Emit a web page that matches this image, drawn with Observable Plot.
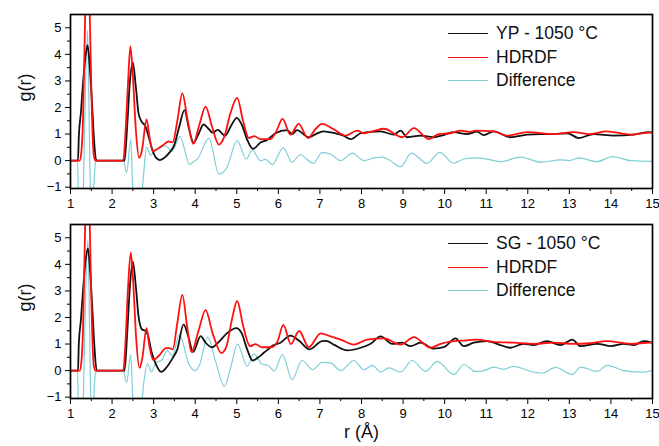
<!DOCTYPE html>
<html>
<head>
<meta charset="utf-8">
<script src="https://cdn.jsdelivr.net/npm/d3@7"></script>
<script src="https://cdn.jsdelivr.net/npm/@observablehq/plot@0.6"></script>
<style>
  body { margin: 0; background: #fff; font-family: "Liberation Sans", Arial, sans-serif; }
  #wrap { position: relative; width: 659px; height: 446px; }
  #wrap svg { display: block; }
  .leg { position: absolute; left: 448px; height: 20px; display: flex; align-items: center; font-size: 17.5px; color: #111; white-space: nowrap; }
  .sw { display: inline-block; width: 40px; height: 0; margin-right: 8px; }
</style>
</head>
<body>
<div id="wrap"></div>
<script>
// ---------- data (r in Å, g(r)) ----------
const xMajor = [1,2,3,4,5,6,7,8,9,10,11,12,13,14,15];
const xMinor = [1.5,2.5,3.5,4.5,5.5,6.5,7.5,8.5,9.5,10.5,11.5,12.5,13.5,14.5];
const yMajor = [-1,0,1,2,3,4,5];
const yMinor = [-0.5,0.5,1.5,2.5,3.5,4.5];

const legendTop = ["YP - 1050 °C", "HDRDF", "Difference"];
const legendBottom = ["SG - 1050 °C", "HDRDF", "Difference"];

const ypExp = [[1,0],[1.18,0],[1.2,0.9],[1.25,1.8],[1.3,2.9],[1.36,3.9],[1.41,4.35],[1.46,3.6],[1.52,2.1],[1.57,0.7],[1.62,0],[2.3,0],[2.36,1.2],[2.43,3.0],[2.5,3.7],[2.57,2.8],[2.64,1.75],[2.72,1.45],[2.8,1.3],[2.88,0.9],[2.97,0.4],[3.06,0.1],[3.15,0.02],[3.25,0.1],[3.38,0.3],[3.5,0.6],[3.62,1.3],[3.74,1.9],[3.85,1.2],[3.96,0.67],[4.08,1.0],[4.2,1.36],[4.32,1.2],[4.42,1.05],[4.54,1.16],[4.72,0.94],[4.86,1.3],[5.0,1.61],[5.12,1.35],[5.26,0.75],[5.39,0.44],[5.57,0.68],[5.73,0.78],[5.93,1.03],[6.21,1.15],[6.33,1.0],[6.45,1.15],[6.73,0.88],[6.9,1.0],[7.08,1.1],[7.36,1.03],[7.55,0.95],[7.74,0.81],[7.98,1.03],[8.2,1.08],[8.46,1.1],[8.78,0.98],[8.94,1.13],[9.1,0.88],[9.42,0.94],[9.73,0.88],[9.95,0.95],[10.21,1.07],[10.54,1.0],[10.78,1.09],[10.94,0.96],[11.18,1.1],[11.58,0.88],[11.99,0.98],[12.3,1.0],[12.63,1.0],[12.95,1.03],[13.23,0.85],[13.59,1.0],[14.07,0.94],[14.55,0.98],[14.91,1.07],[15,1.06]];

const ypFit = [[1,0],[1.22,0],[1.26,0.3],[1.3,1.5],[1.34,4.5],[1.41,9],[1.47,5.0],[1.52,1.5],[1.56,0.2],[1.6,0],[2.27,0],[2.32,1.0],[2.38,2.8],[2.44,4.3],[2.5,3.2],[2.57,1.2],[2.65,0.1],[2.72,0.4],[2.83,1.55],[2.9,0.9],[2.98,0.35],[3.1,0.45],[3.24,0.6],[3.36,0.72],[3.46,0.69],[3.57,1.5],[3.69,2.53],[3.82,1.5],[3.95,0.63],[4.1,1.35],[4.25,2.03],[4.4,1.3],[4.57,0.6],[4.7,0.9],[4.85,1.8],[5.01,2.36],[5.15,1.5],[5.29,0.85],[5.42,0.92],[5.57,0.81],[5.81,0.81],[5.95,1.1],[6.1,1.57],[6.29,0.98],[6.49,1.38],[6.71,0.85],[6.9,1.2],[7.05,1.38],[7.33,1.18],[7.62,0.94],[7.9,1.13],[8.06,1.03],[8.3,1.12],[8.54,1.2],[8.98,0.88],[9.26,1.22],[9.62,0.81],[9.86,1.0],[10.14,1.03],[10.38,1.13],[10.6,1.08],[10.74,1.13],[11.18,1.1],[11.5,0.94],[11.99,1.07],[12.63,1.0],[13.1,1.07],[13.5,1.0],[13.9,1.1],[14.47,0.98],[14.95,1.05],[15,1.05]];

const ypDiff = [[1,0],[1.17,0],[1.19,-1.5],[1.24,-2.5],[1.3,-1.5],[1.35,2.0],[1.41,4.9],[1.45,1.5],[1.48,-1.5],[1.52,-2.5],[1.56,-1.0],[1.6,-0.1],[1.64,0],[2.27,0],[2.35,-0.45],[2.45,0.8],[2.5,-1.2],[2.6,-2.5],[2.7,-1.5],[2.76,-0.5],[2.83,0.5],[2.93,0.2],[3.03,0.38],[3.17,0.5],[3.29,0.55],[3.44,0.35],[3.63,0.9],[3.87,-0.15],[3.95,-0.05],[4.05,0.05],[4.33,0.84],[4.57,-0.5],[4.75,-0.3],[5.01,0.75],[5.23,0.06],[5.37,0.4],[5.57,0.0],[5.69,0.05],[5.85,-0.15],[6.12,0.48],[6.33,-0.06],[6.52,0.22],[6.84,-0.1],[7.05,0.3],[7.25,0.25],[7.5,0.0],[7.78,0.28],[8.06,0.0],[8.3,0.1],[8.5,0.13],[8.66,0.03],[8.94,-0.23],[9.2,0.28],[9.58,-0.1],[9.88,0.31],[10.22,-0.1],[10.46,0.06],[10.78,0.1],[11.1,0.03],[11.34,-0.04],[11.83,0.13],[12.31,-0.06],[12.79,0.03],[12.99,0.0],[13.23,0.1],[13.67,-0.04],[14.03,0.15],[14.47,0.0],[14.95,-0.03],[15,-0.02]];

const sgExp = [[1,0],[1.18,0],[1.2,1.0],[1.25,1.9],[1.3,3.0],[1.36,4.1],[1.42,4.6],[1.47,3.8],[1.53,2.2],[1.58,0.8],[1.63,0],[2.3,0],[2.36,1.3],[2.43,3.2],[2.5,4.1],[2.57,3.2],[2.64,2.0],[2.72,1.55],[2.8,1.5],[2.86,1.35],[2.95,0.7],[3.05,0.25],[3.18,-0.05],[3.3,0.1],[3.45,0.45],[3.57,0.8],[3.72,1.74],[3.83,1.3],[3.95,0.7],[4.13,1.3],[4.25,1.05],[4.4,0.88],[4.58,1.1],[4.76,1.4],[4.99,1.6],[5.12,1.4],[5.25,0.8],[5.38,0.38],[5.52,0.5],[5.65,0.67],[5.89,0.96],[6.05,1.05],[6.29,1.32],[6.5,1.12],[6.75,0.8],[7.05,1.11],[7.15,1.12],[7.33,0.98],[7.66,0.76],[7.98,0.86],[8.22,1.01],[8.46,1.29],[8.74,1.01],[8.98,1.05],[9.18,0.92],[9.42,1.05],[9.74,0.83],[9.98,0.88],[10.26,1.21],[10.46,0.92],[10.7,1.05],[11.02,1.11],[11.26,1.01],[11.58,0.86],[11.9,1.01],[12.14,0.96],[12.46,1.11],[12.79,0.96],[13.07,1.17],[13.27,0.92],[13.67,1.01],[14.0,0.92],[14.31,1.01],[14.55,0.96],[14.79,1.11],[15,1.05]];

const sgFit = [[1,0],[1.22,0],[1.26,0.3],[1.3,1.5],[1.34,4.5],[1.41,9],[1.47,5.0],[1.52,1.5],[1.56,0.2],[1.6,0],[2.27,0],[2.32,1.0],[2.38,3.0],[2.45,4.45],[2.51,3.3],[2.58,1.2],[2.66,0.1],[2.73,0.5],[2.83,1.6],[2.9,0.9],[2.99,0.4],[3.12,0.55],[3.3,0.85],[3.38,0.85],[3.46,0.8],[3.57,1.8],[3.69,2.85],[3.81,1.6],[3.91,0.7],[4.08,1.5],[4.25,2.28],[4.42,1.4],[4.63,0.66],[4.75,0.9],[4.88,1.9],[5.01,2.62],[5.15,1.7],[5.32,0.92],[5.45,1.0],[5.6,0.88],[5.83,0.88],[5.98,1.1],[6.12,1.72],[6.3,1.0],[6.5,1.49],[6.73,0.88],[7.02,1.4],[7.24,1.3],[7.5,1.17],[7.82,0.98],[8.14,1.17],[8.54,1.21],[8.94,0.98],[9.26,1.26],[9.66,0.86],[9.9,1.01],[10.22,1.11],[10.54,1.14],[10.78,1.17],[11.18,1.08],[11.66,1.05],[12.14,1.01],[12.62,1.05],[13.1,1.01],[13.5,1.03],[13.9,1.11],[14.47,1.01],[14.95,1.05],[15,1.05]];

const sgDiff = [[1,0],[1.17,0],[1.19,-1.5],[1.24,-2.5],[1.3,-1.5],[1.35,2.0],[1.42,4.9],[1.46,1.5],[1.49,-1.5],[1.52,-2.5],[1.56,-1.0],[1.6,-0.1],[1.64,0],[2.27,0],[2.35,-0.45],[2.45,0.6],[2.5,-1.2],[2.6,-2.5],[2.7,-1.5],[2.76,-0.5],[2.85,0.25],[2.95,-0.05],[3.05,0.3],[3.2,0.4],[3.33,0.76],[3.45,0.55],[3.62,1.36],[3.85,0.23],[4.0,0.0],[4.1,0.2],[4.3,1.26],[4.5,0.3],[4.7,-0.6],[4.85,0.1],[5.02,1.0],[5.25,0.16],[5.41,0.63],[5.62,0.23],[5.75,0.2],[5.9,-0.02],[6.1,0.6],[6.33,-0.34],[6.57,0.38],[6.83,0.04],[7.05,0.31],[7.25,0.29],[7.5,0.0],[7.81,0.38],[8.06,0.04],[8.26,0.2],[8.46,-0.05],[8.66,0.1],[8.94,-0.05],[9.22,0.38],[9.54,-0.03],[9.82,0.35],[10.22,-0.15],[10.46,0.23],[10.74,-0.03],[10.9,-0.02],[11.18,0.13],[11.42,0.05],[11.66,0.16],[12.07,-0.03],[12.35,-0.09],[12.67,0.12],[13.07,-0.15],[13.27,0.13],[13.67,-0.03],[13.91,0.2],[14.31,0.0],[14.79,-0.06],[15,0.0]];

const colors = ["#111111", "#ff1010", "#7ecfd7"];

// ---------- drawing ----------
const font = "'Liberation Sans', Arial, sans-serif";

function panel(exp, fit, diff, o) {
  const line = (data, stroke, sw) => Plot.line(data, {
    x: d => d[0], y: d => d[1], stroke, strokeWidth: sw, curve: "monotone-x", clip: true
  });
  const marks = [
    line(diff, colors[2], 1.2),
    line(exp, colors[0], 1.8),
    line(fit, colors[1], 1.8),
    Plot.axisX({ticks: xMajor, tickSize: 6, tickPadding: 4, tickFormat: d3.format("d"), fontSize: 13, label: null}),
    Plot.axisX({ticks: xMinor, tickSize: 3, tickFormat: () => "", label: null}),
    Plot.axisY({ticks: yMajor, tickSize: 5, tickPadding: 4, tickFormat: d3.format("d"), fontSize: 13, label: null}),
    Plot.axisY({ticks: yMinor, tickSize: 3, tickFormat: () => "", label: null}),
    Plot.frame({stroke: "#000", strokeWidth: 1.7}),
    Plot.text(["g(r)"], {text: d => d, frameAnchor: "left", dx: -45, rotate: -90, fontSize: 18, fill: "#111"})
  ];
  if (o.xlabel) marks.push(Plot.text([o.xlabel], {text: d => d, frameAnchor: "bottom", dy: 39, fontSize: 18, fill: "#111"}));
  return Plot.plot({
    width: 659, height: o.height,
    marginLeft: 70, marginRight: 7, marginTop: o.mt, marginBottom: o.mb,
    style: {fontFamily: font, color: "#000", background: "transparent", overflow: "visible"},
    x: {domain: [1, 15]},
    y: {domain: [-1.05, 5.5]},
    marks
  });
}

const wrap = document.getElementById("wrap");
wrap.appendChild(panel(ypExp, ypFit, ypDiff, {height: 212, mt: 14, mb: 24}));
wrap.appendChild(panel(sgExp, sgFit, sgDiff, {height: 234, mt: 12, mb: 48, xlabel: "r (Å)"}));

function legend(labels, centers) {
  labels.forEach((t, i) => {
    const row = document.createElement("div");
    row.className = "leg";
    row.style.top = (centers[i] - 10) + "px";
    const sw = document.createElement("span");
    sw.className = "sw";
    sw.style.borderTop = (i === 2 ? 1.3 : 1.8) + "px solid " + colors[i];
    row.appendChild(sw);
    row.appendChild(document.createTextNode(t));
    wrap.appendChild(row);
  });
}
legend(legendTop, [33.5, 57, 80]);
legend(legendBottom, [243.5, 267, 290]);
</script>
</body>
</html>
